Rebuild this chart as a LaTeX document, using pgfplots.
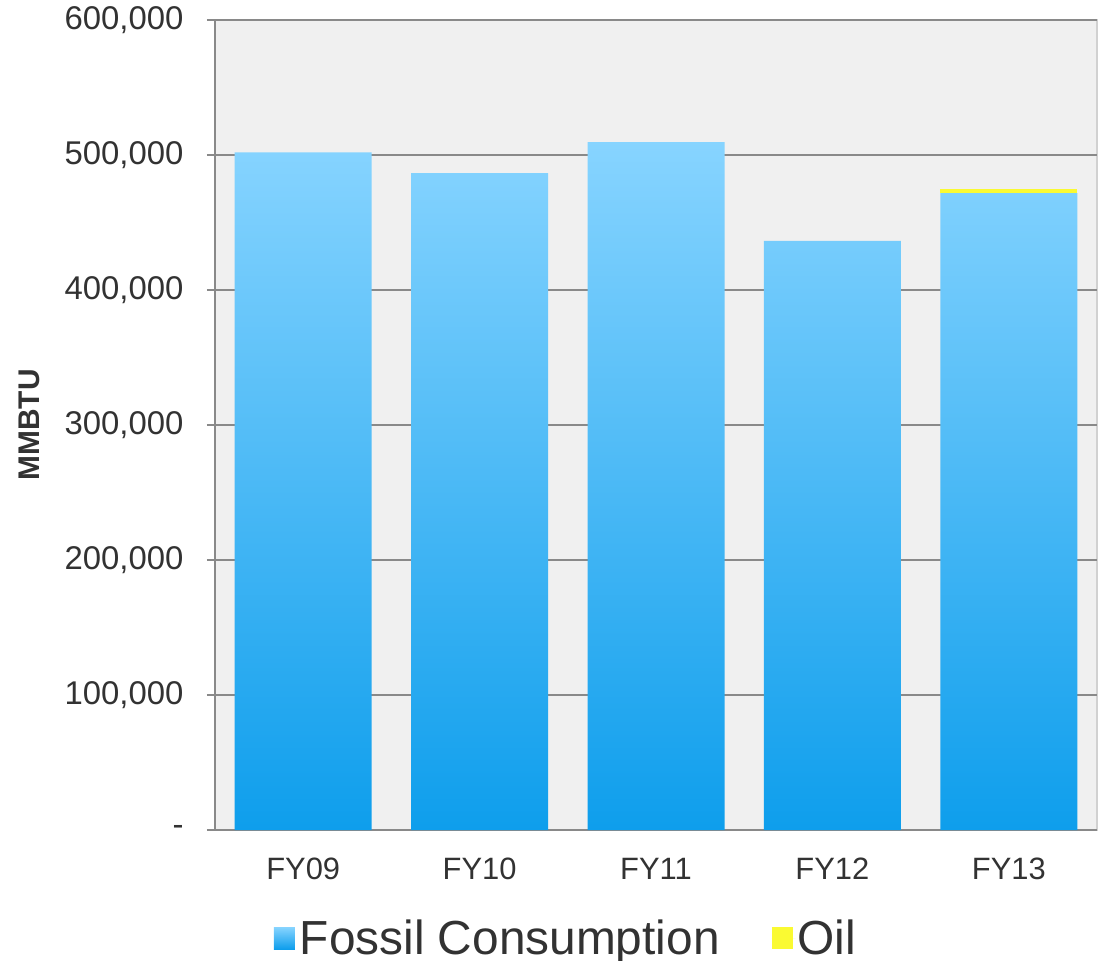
\documentclass[border=0pt]{standalone}
\usepackage{pgfplots}
\pgfplotsset{compat=1.18}
\usepackage{fontspec}
\setmainfont{Liberation Sans}
\definecolor{bartop}{RGB}{135,212,255}
\definecolor{barbot}{RGB}{14,158,236}
\definecolor{oilc}{RGB}{250,250,50}
\definecolor{axisgray}{RGB}{137,137,137}
\definecolor{bggray}{RGB}{240,240,240}
\definecolor{txt}{RGB}{50,50,50}
\begin{document}
\begin{tikzpicture}
\useasboundingbox (-215bp,-131bp) rectangle (888bp,830bp);
\begin{axis}[
    scale only axis,
    width=882bp, height=810bp,
    ybar stacked,
    bar width=137bp,
    xmin=-0.5, xmax=4.5,
    ymin=0, ymax=600000,
    axis x line*=bottom, axis y line*=left,
    axis line style={axisgray, line width=1.2bp},
    axis background/.style={fill=bggray, draw=black!18, line width=1.2bp},
    xtick={0,1,2,3,4},
    xticklabels={FY09,FY10,FY11,FY12,FY13},
    minor xtick={-0.5,0.5,1.5,2.5,3.5,4.5},
    x tick style={draw=none},
    minor x tick style={axisgray, line width=1.2bp},
    minor tick length=10bp,
    ytick={0,100000,200000,300000,400000,500000,600000},
    yticklabels={{-},{100,000},{200,000},{300,000},{400,000},{500,000},{600,000}},
    y tick style={axisgray, line width=1.2bp},
    major tick length=8bp,
    tick align=outside,
    ymajorgrids,
    grid style={axisgray, line width=1.2bp},
    xticklabel style={font=\fontsize{31}{36}\selectfont, text=txt, yshift=-15bp,
        text height=23bp, text depth=1bp},
    yticklabel style={font=\fontsize{33}{38}\selectfont, text=txt, xshift=-20bp, inner ysep=0bp},
    /pgf/number format/assume math mode=true,
    ylabel={\bfseries MMBTU},
    ylabel style={font=\fontsize{30}{34}\selectfont, text=txt, at={(axis description cs:-0.21,0.5)}, anchor=center},
    legend style={at={(351bp,-108bp)}, anchor=center, draw=none, fill=none,
        font=\fontsize{48}{54}\selectfont, text=txt, legend columns=2,
        /tikz/every even column/.append style={column sep=50bp}},
    legend cell align=left,
]
\addplot[draw=none, top color=bartop, bottom color=barbot,
    legend image code/.code={\shade[top color=bartop, bottom color=barbot] (0bp,-11bp) rectangle (21bp,11bp); \path (0bp,0bp) -- (24bp,0bp);}]
    coordinates {(0,502000) (1,486500) (2,509500) (3,436300) (4,471800)};
\addplot[draw=none, fill=oilc,
    legend image code/.code={\fill[oilc] (0bp,-11bp) rectangle (21bp,11bp); \path (0bp,0bp) -- (24bp,0bp);}]
    coordinates {(0,0) (1,0) (2,0) (3,0) (4,3000)};
\legend{Fossil Consumption, Oil}
\end{axis}
\end{tikzpicture}
\end{document}
